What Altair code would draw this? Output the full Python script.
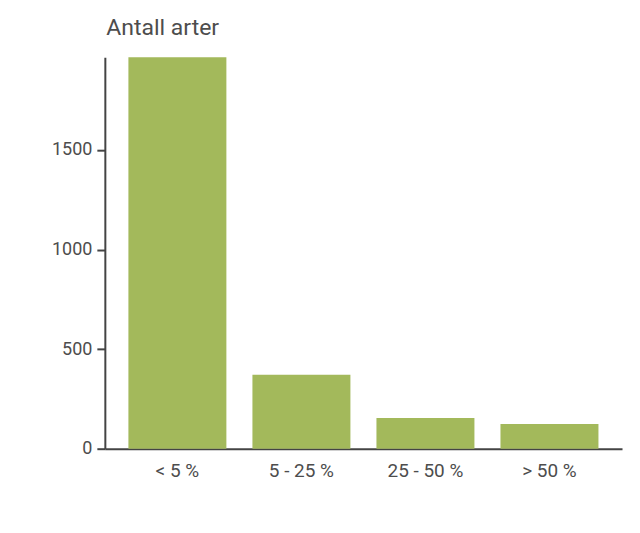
import altair as alt
import pandas as pd

categories = ["< 5 %", "5 - 25 %", "25 - 50 %", "> 50 %"]
values = [1965, 371, 154, 124]

df = pd.DataFrame({"kategori": categories, "antall": values})

chart = alt.Chart(df).mark_bar(color="#a3b95b").encode(
    x=alt.X("kategori:N", sort=categories,
            scale=alt.Scale(paddingInner=0.21, paddingOuter=0.19),
            axis=alt.Axis(title=None, labelAngle=0, ticks=False, labelPadding=13,
                          domainColor="#444444", domainWidth=2,
                          labelColor="#4d4d4d", labelFont="Roboto", labelFontSize=19)),
    y=alt.Y("antall:Q", scale=alt.Scale(domain=[0, 1965], nice=False),
            axis=alt.Axis(title="Antall arter", titleAngle=0, titleAlign="left",
                          titleBaseline="alphabetic", titleX=1, titleY=-23,
                          titleFont="Roboto", titleFontSize=23, titleFontWeight="normal",
                          titleColor="#4d4d4d", format="d",
                          values=[0, 500, 1000, 1500], grid=False,
                          domainColor="#444444", domainWidth=2,
                          tickColor="#444444", tickWidth=2, tickSize=8,
                          labelPadding=5, labelColor="#4d4d4d",
                          labelFont="Roboto", labelFontSize=18)),
).properties(
    width=518, height=392,
    autosize=alt.AutoSizeParams(type="none"),
    padding={"left": 97, "top": 49, "right": 10, "bottom": 70},
).configure_view(stroke=None)

chart.save("out.html", embed_options={"renderer": "svg", "actions": False})
